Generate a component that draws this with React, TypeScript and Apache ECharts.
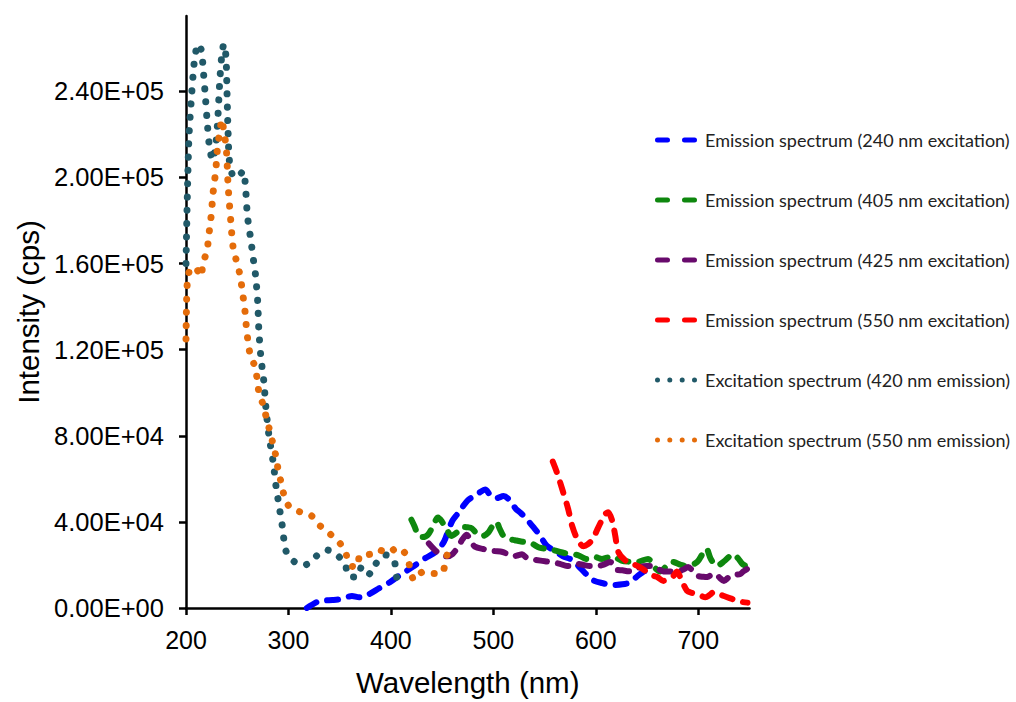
import React, { useEffect, useRef } from "react";
import * as echarts from "echarts";

// ---- Data (wavelength nm, intensity cps) ----
const emission240: [number, number][] = [
  [318, 0], [322, 1200], [328, 2800], [335, 3500], [343, 3700], [352, 4200], [362, 5600], [369, 5000],
  [377, 6000], [389, 9300], [399, 12000], [408, 15000], [421, 19000], [433, 23000], [445, 26500],
  [452, 31000], [456, 36000], [460, 40500], [465, 43700], [470, 47000], [475, 50000], [481, 52000],
  [486, 53500], [492, 55000], [497, 52500], [503, 51000], [510, 52000], [516, 50000], [522, 46000],
  [527, 44000], [533, 41000], [540, 37000], [545, 34000], [552, 29000], [560, 26500], [568, 24000],
  [576, 22500], [583, 19500], [590, 16000], [597, 13000], [606, 11600], [616, 10700], [626, 11000],
  [634, 12000], [641, 15000], [646, 16700], [650, 17500],
];

const emission405: [number, number][] = [
  [420, 41000], [423, 38000], [427, 33500], [431, 33000], [436, 34000], [441, 38000], [446, 42000],
  [450, 40000], [455, 36000], [459, 33500], [464, 35000], [470, 37700], [475, 37500], [479, 37000],
  [484, 34500], [490, 33500], [495, 35000], [499, 38000], [503, 40000], [506, 37000], [510, 33500],
  [516, 32000], [521, 31500], [526, 31000], [532, 30500], [538, 29800], [545, 28000], [555, 27400],
  [565, 26000], [575, 25000], [583, 24500], [591, 22800], [599, 23700], [606, 22800], [616, 24000],
  [625, 22000], [633, 21500], [640, 21400], [651, 22800], [657, 19000], [663, 17000], [669, 19500],
  [675, 21400], [683, 20000], [690, 19500], [699, 21400], [704, 25000], [708, 27500], [712, 23000],
  [718, 19500], [726, 22000], [734, 25000], [739, 23000], [743, 20500], [749, 19000],
];

const emission425: [number, number][] = [
  [437, 30000], [445, 26000], [450, 24500], [455, 24000], [460, 25000], [465, 28000], [470, 32000],
  [474, 34000], [478, 31000], [482, 28500], [490, 27400], [500, 26500], [509, 26000], [514, 25000],
  [519, 24000], [524, 24500], [528, 25000], [532, 23500], [536, 22800], [546, 22000], [556, 21400],
  [565, 20500], [572, 19500], [577, 19500], [582, 20500], [588, 20000], [594, 19500], [601, 19500],
  [607, 20000], [614, 21400], [619, 18000], [626, 17500], [634, 17000], [643, 19000], [650, 19500],
  [655, 19500], [660, 18500], [666, 17000], [673, 17000], [680, 17000], [686, 18000], [690, 19000],
  [695, 17000], [699, 15000], [705, 14500], [709, 14400], [713, 15500], [717, 15800], [721, 14000],
  [725, 12600], [729, 14000], [731, 15000], [736, 15500], [741, 15800], [744, 17000], [749, 18500],
];

const emission550: [number, number][] = [
  [558, 68000], [562, 63000], [568, 54000], [573, 46000], [577, 38000], [582, 32000], [588, 28700],
  [592, 29500], [597, 32000], [601, 36000], [605, 40000], [609, 43500], [612, 44500], [616, 40500],
  [619, 33500], [622, 26000], [629, 22000], [636, 20500], [643, 19000], [650, 16700], [656, 15000],
  [660, 14400], [666, 12600], [671, 13500], [676, 15000], [679, 17000], [684, 12600], [689, 8000],
  [694, 7000], [699, 6500], [707, 5000], [711, 6000], [715, 7400], [720, 6500], [725, 5600],
  [733, 4200], [738, 3500], [743, 2800], [748, 2500],
];

const excitation420: [number, number][] = [
  [200, 160000], [201, 185000], [202, 205000], [203, 220000], [205, 235000], [207, 248000],
  [209, 257000], [212, 262000], [215, 259000], [217, 249000], [219, 237000], [221, 224000],
  [223, 214000], [226, 208000], [229, 215000], [231, 227000], [233, 245000], [235, 257000],
  [237, 262000], [239, 256000], [240, 240000], [241, 222000], [242.5, 207000], [245.5, 201000],
  [249, 200000], [252, 201000], [256, 203000], [258, 196000], [259.5, 185000], [261, 178000],
  [263, 172000], [266, 161000], [268, 154000], [270, 142000], [271, 130000], [273, 117000],
  [276, 105000], [278, 93000], [281, 80000], [285, 68000], [288, 56000], [290, 50000],
  [292, 44000], [294, 38000], [295.5, 32000], [298, 26000], [306, 21400], [316, 20000],
  [326, 23700], [337, 27000], [347, 24600], [355, 21000], [358.5, 15000], [367, 14400],
  [372, 19500], [380, 15800], [386, 21000], [395, 24600], [403, 22000], [405, 15800], [407, 10700],
];

const excitation550: [number, number][] = [
  [200, 125000], [200.5, 140000], [201.5, 152000], [205, 158000], [209, 158000], [214.5, 154000],
  [216.5, 160000], [220.5, 166000], [222, 172000], [223.5, 178000], [225, 184000], [226, 191000],
  [227.5, 197000], [229, 203000], [230, 209000], [231, 215000], [233, 221000], [235, 227000],
  [237, 221000], [239, 215000], [240, 208000], [241, 197000], [242.5, 187000], [244, 178000],
  [245, 172000], [246.5, 166000], [250, 160000], [253, 154000], [255, 147000], [256.5, 142000],
  [258, 136000], [259, 130000], [260.5, 124000], [263, 117000], [267.5, 112000], [269.5, 106000],
  [271.5, 99500], [276, 93500], [279, 87000], [282, 82000], [285, 76000], [288, 70000],
  [290, 64000], [293, 58000], [296, 52000], [301, 47000], [311.5, 44600], [322, 43000],
  [329, 39000], [339, 35000], [348.7, 31000], [355.6, 26000], [359.5, 20000], [367, 19000],
  [370, 24600], [380, 25000], [388, 27000], [396.7, 25600], [406.5, 28000], [415, 24600],
  [423, 13000], [431, 16700], [440.7, 16000], [449.5, 16000], [453.4, 22000], [455, 25000],
];

const seriesNames = [
  "Emission spectrum (240 nm excitation)",
  "Emission spectrum (405 nm excitation)",
  "Emission spectrum (425 nm excitation)",
  "Emission spectrum (550 nm excitation)",
  "Excitation spectrum (420 nm emission)",
  "Excitation spectrum (550 nm emission)",
];
const seriesColors = ["#0000FF", "#0E870E", "#680A6C", "#FF0000", "#215968", "#E46C0A"];
const seriesData = [emission240, emission405, emission425, emission550, excitation420, excitation550];
const seriesDotted = [false, false, false, false, true, true];

const xTicks = [200, 300, 400, 500, 600, 700];
const yTicks = [0, 40000, 80000, 120000, 160000, 200000, 240000];

// legend glyphs: two rounded dashes / four dots
const DASH_ICON =
  "path://M2.5,0 H12.5 A2.5,2.5 0 0 1 12.5,5 H2.5 A2.5,2.5 0 0 1 2.5,0 Z " +
  "M29.5,0 H39.5 A2.5,2.5 0 0 1 39.5,5 H29.5 A2.5,2.5 0 0 1 29.5,0 Z";
const DOT_ICON =
  "path://M0,2.5 A2.5,2.5 0 1 1 5,2.5 A2.5,2.5 0 1 1 0,2.5 Z " +
  "M12.3,2.5 A2.5,2.5 0 1 1 17.3,2.5 A2.5,2.5 0 1 1 12.3,2.5 Z " +
  "M24.7,2.5 A2.5,2.5 0 1 1 29.7,2.5 A2.5,2.5 0 1 1 24.7,2.5 Z " +
  "M37,2.5 A2.5,2.5 0 1 1 42,2.5 A2.5,2.5 0 1 1 37,2.5 Z";

function sci(v: number): string {
  const [m, e] = v.toExponential(2).split("e");
  const sign = e[0] === "-" ? "-" : "+";
  const digits = e.replace(/[+-]/, "").padStart(2, "0");
  return `${m}E${sign}${digits}`;
}

export default function App() {
  const ref = useRef<HTMLDivElement>(null);
  useEffect(() => {
    if (!ref.current) return;
    const chart = echarts.init(ref.current, undefined, { renderer: "svg" });
    const axisFont = "'Liberation Sans', Arial, sans-serif";
    chart.setOption({
      animation: false,
      backgroundColor: "#ffffff",
      grid: { left: 186, right: 266.5, top: 16, bottom: 92, containLabel: false },
      legend: {
        orient: "vertical",
        left: 650,
        top: 125,
        itemWidth: 42,
        itemHeight: 5,
        itemGap: 40,
        data: seriesNames.map((name, i) => ({
          name,
          icon: seriesDotted[i] ? DOT_ICON : DASH_ICON,
          itemStyle: { color: seriesColors[i], borderWidth: 0 },
        })),
        textStyle: {
          fontFamily: "Lato, 'Noto Sans', sans-serif",
          fontSize: 18,
          color: "#222",
          lineHeight: 20,
          padding: [0, 0, 0, 3],
        },
      },
      xAxis: {
        type: "value",
        min: 200,
        max: 750,
        interval: 100,
        name: "Wavelength (nm)",
        nameLocation: "middle",
        nameGap: 59,
        nameTextStyle: { fontFamily: axisFont, fontSize: 29.5, color: "#000" },
        axisLine: { show: true, lineStyle: { color: "#000", width: 2.5 } },
        axisTick: { show: true, length: 7, lineStyle: { color: "#000", width: 2.5 }, customValues: xTicks },
        axisLabel: {
          fontFamily: axisFont, fontSize: 25, color: "#000", margin: 19, customValues: xTicks,
        },
        splitLine: { show: false },
      },
      yAxis: {
        type: "value",
        min: 0,
        max: 275000,
        interval: 40000,
        name: "Intensity (cps)",
        nameLocation: "middle",
        nameGap: 141,
        nameTextStyle: { fontFamily: axisFont, fontSize: 29.5, color: "#000" },
        axisLine: { show: true, lineStyle: { color: "#000", width: 2.5 } },
        axisTick: { show: true, length: 7, lineStyle: { color: "#000", width: 2.5 }, customValues: yTicks },
        axisLabel: {
          fontFamily: axisFont, fontSize: 25.5, color: "#000", margin: 22, customValues: yTicks,
          formatter: (v: number) => sci(v),
        },
        splitLine: { show: false },
      },
      series: seriesNames.map((name, i) => ({
        name,
        type: "line",
        data: seriesData[i],
        symbol: "none",
        showSymbol: false,
        smooth: 0.3,
        itemStyle: { color: seriesColors[i] },
        lineStyle: seriesDotted[i]
          ? { color: seriesColors[i], width: 7, type: [0.1, 13.2], cap: "round", join: "round" }
          : { color: seriesColors[i], width: 6, type: [11, 11], cap: "round", join: "round" },
      })),
    });
    return () => chart.dispose();
  }, []);
  return (
    <div
      ref={ref}
      style={{ position: "fixed", left: 0, top: 0, width: 1016, height: 702, background: "#fff" }}
    />
  );
}
